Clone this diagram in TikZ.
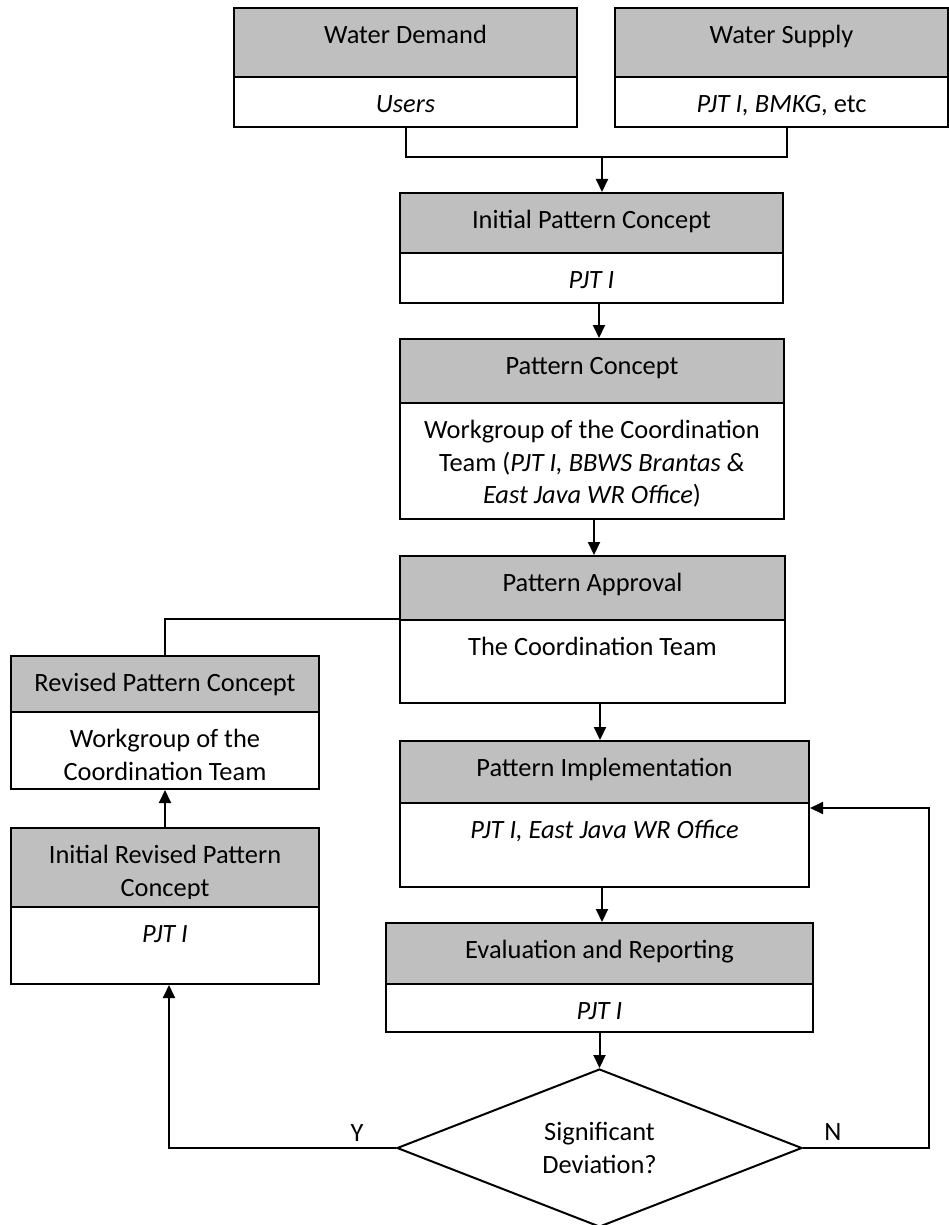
\documentclass[tikz,border=0pt]{standalone}
\usepackage{fontspec}
\setmainfont{Carlito}
\usetikzlibrary{arrows.meta, shapes.geometric}
\definecolor{headgray}{HTML}{BFBFBF}
\tikzset{
  head/.style={draw, fill=headgray, line width=2pt, inner sep=0pt},
  body/.style={draw, fill=white, line width=2pt, inner sep=0pt},
  txt/.style={anchor=base, inner sep=0pt, align=center, yshift=-36.5pt},
  twolines/.style={yshift=-32.5pt},
  threelines/.style={yshift=-65pt},
  link/.style={line width=2pt},
  flow/.style={-{Triangle[length=13pt, width=12pt]}, line width=2pt},
  every node/.append style={font=\fontsize{26.4}{32.5}\selectfont}
}
\begin{document}
\begin{tikzpicture}[x=1pt, y=-1pt]
\useasboundingbox[fill=white] (0,0) rectangle (949,1225);
% inputs
\node[head, minimum width=343pt, minimum height=69pt] (wdH) at (405.5,42.5) {};
\node[body, minimum width=343pt, minimum height=50pt] (wdB) at (405.5,102) {};
\node[head, minimum width=333pt, minimum height=69pt] (wsH) at (781.5,42.5) {};
\node[body, minimum width=333pt, minimum height=50pt] (wsB) at (781.5,102) {};
% main column
\node[head, minimum width=383pt, minimum height=60pt] (ipcH) at (591.5,223) {};
\node[body, minimum width=383pt, minimum height=50pt] (ipcB) at (591.5,278) {};
\node[head, minimum width=384pt, minimum height=64pt] (pcH) at (592,371) {};
\node[body, minimum width=384pt, minimum height=116pt] (pcB) at (592,461) {};
\node[head, minimum width=385pt, minimum height=64pt] (paH) at (592.5,588) {};
\node[body, minimum width=385pt, minimum height=83pt] (paB) at (592.5,661.5) {};
\node[head, minimum width=409pt, minimum height=62pt] (piH) at (604.5,772) {};
\node[body, minimum width=409pt, minimum height=84pt] (piB) at (604.5,845) {};
\node[head, minimum width=427pt, minimum height=61pt] (erH) at (599.5,953.5) {};
\node[body, minimum width=427pt, minimum height=48pt] (erB) at (599.5,1008) {};
% revision column
\node[head, minimum width=308pt, minimum height=56pt] (rpcH) at (165,684) {};
\node[body, minimum width=308pt, minimum height=77pt] (rpcB) at (165,750.5) {};
\node[head, minimum width=308pt, minimum height=79pt] (irpcH) at (165,867.5) {};
\node[body, minimum width=308pt, minimum height=77pt] (irpcB) at (165,945.5) {};
% decision
\node[diamond, draw, line width=2pt, aspect=2.56, inner sep=0pt, align=center,
  minimum width=405pt, minimum height=158pt] (dev) at (599.5,1148) {Significant\\Deviation?};

% texts
\node[txt] (wdHt) at (wdH.north) {Water Demand};
\node[txt] (wdBt) at (wdB.north) {\textit{Users}};
\node[txt] (wsHt) at (wsH.north) {Water Supply};
\node[txt] (wsBt) at (wsB.north) {\textit{PJT I, BMKG}, etc};
\node[txt] (ipcHt) at (ipcH.north) {Initial Pattern Concept};
\node[txt] (ipcBt) at (ipcB.north) {\textit{PJT I}};
\node[txt] (pcHt) at (pcH.north) {Pattern Concept};
\node[txt, threelines] (pcBt) at (pcB.north) {Workgroup of the Coordination\\Team (\textit{PJT I, BBWS Brantas \&}\\\textit{East Java WR Office})};
\node[txt] (paHt) at (paH.north) {Pattern Approval};
\node[txt] (paBt) at (paB.north) {The Coordination Team};
\node[txt] (piHt) at (piH.north) {Pattern Implementation};
\node[txt] (piBt) at (piB.north) {\textit{PJT I, East Java WR Office}};
\node[txt] (erHt) at (erH.north) {Evaluation and Reporting};
\node[txt] (erBt) at (erB.north) {\textit{PJT I}};
\node[txt] (rpcHt) at (rpcH.north) {Revised Pattern Concept};
\begin{scope}
\clip (rpcB.north west) rectangle ([yshift=10pt]rpcB.south east);
\node[txt, twolines] (rpcBt) at (rpcB.north) {Workgroup of the\\Coordination Team};
\end{scope}
\begin{scope}
\clip (irpcH.north west) rectangle ([yshift=10pt]irpcH.south east);
\node[txt, twolines] (irpcHt) at (irpcH.north) {Initial Revised Pattern\\Concept};
\end{scope}
\node[txt] (irpcBt) at (irpcB.north) {\textit{PJT I}};

% connectors
\coordinate (join) at (602,157);
\draw[link] (wdB.south) |- (join) -| ([xshift=5.5pt]wsB.south);
\draw[flow] (join) -- (join |- ipcH.north);
\draw[flow] ([xshift=7.5pt]ipcB.south) -- ([xshift=7.5pt]ipcB.south |- pcH.north);
\draw[flow] ([xshift=2pt]pcB.south) -- ([xshift=2pt]pcB.south |- paH.north);
\draw[flow] ([xshift=7.5pt]paB.south) -- ([xshift=7.5pt]paB.south |- piH.north);
\draw[flow] ([xshift=-2.5pt]piB.south) -- ([xshift=-2.5pt]piB.south |- erH.north);
\draw[flow] (erB.south) -- (dev.north);
\draw[link] (paB.north west) -| (rpcH.north);
\draw[flow] (irpcH.north) -- (rpcB.south);
\draw[flow] (dev.west) -| ([xshift=4pt]irpcB.south);
\coordinate (turnN) at (929,1148);
\draw[flow] (dev.east) -- (turnN) |- ([yshift=-4pt]piH.south east);
\node (yLbl) at (357,1133) {Y};
\node (nLbl) at (833,1132) {N};
\end{tikzpicture}
\end{document}
